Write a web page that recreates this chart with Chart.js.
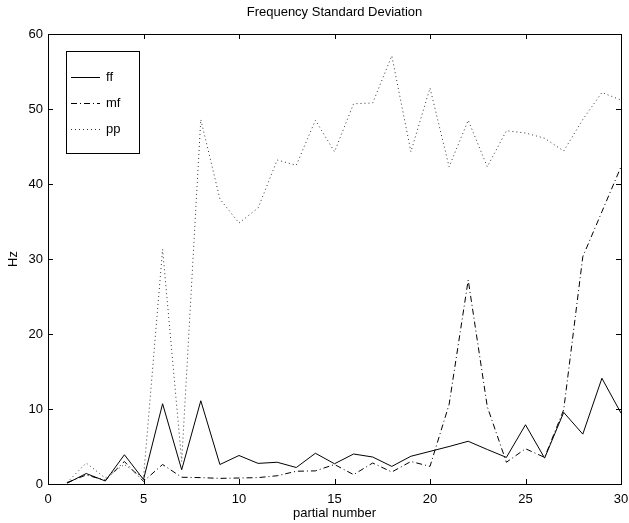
<!DOCTYPE html>
<html>
<head>
<meta charset="utf-8">
<script src="https://cdn.jsdelivr.net/npm/chart.js@4"></script>
<style>
  html, body { margin: 0; padding: 0; background: #fff; }
  #wrap { width: 629px; height: 523px; }
</style>
</head>
<body>
<div id="wrap"><canvas id="grafico"></canvas></div>
<script>
// dados
const parciais = [1,2,3,4,5,6,7,8,9,10,11,12,13,14,15,16,17,18,19,20,21,22,23,24,25,26,27,28,29,30];
const ff = [0.1,1.4,0.4,3.9,0.6,10.7,1.9,11.1,2.6,3.8,2.75,2.9,2.2,4.1,2.7,4.0,3.6,2.35,3.7,4.35,5.0,5.7,4.6,3.55,7.9,3.45,9.55,6.65,14.1,9.45];
const mf = [0.2,1.2,0.5,3.0,0.35,2.6,0.9,0.85,0.75,0.8,0.85,1.1,1.7,1.75,2.6,1.25,2.8,1.6,3.0,2.35,10.6,27.2,10.3,2.9,4.7,3.55,9.9,30.3,36.3,42.3];
const pp = [0.2,2.8,0.8,2.6,0.8,31.3,3.0,48.6,38.0,34.8,36.8,43.2,42.5,48.5,44.3,50.7,50.8,57.1,44.3,52.8,42.3,48.5,42.3,47.1,46.8,46.1,44.4,48.6,52.2,51.2];
const seriesNomes = ['ff', 'mf', 'pp'];
const xTicks = [0, 5, 10, 15, 20, 25, 30];
const yTicks = [0, 10, 20, 30, 40, 50, 60];

const fonte = 'Liberation Sans, Arial, Helvetica, sans-serif';

function pontos(valores) {
  return parciais.map((p, i) => ({ x: p, y: valores[i] }));
}

// moldura, marcas internas, titulos e legenda
const molduraPlugin = {
  id: 'moldura',
  afterDraw(chart) {
    const ctx = chart.ctx;
    const a = chart.chartArea;
    const sx = chart.scales.x;
    const sy = chart.scales.y;
    ctx.save();
    ctx.strokeStyle = '#000';
    ctx.lineWidth = 1;
    ctx.strokeRect(a.left + 0.5, a.top + 0.5, a.right - a.left, a.bottom - a.top);
    ctx.beginPath();
    xTicks.forEach(v => {
      const px = Math.round(sx.getPixelForValue(v)) + 0.5;
      ctx.moveTo(px, a.bottom); ctx.lineTo(px, a.bottom - 5);
      ctx.moveTo(px, a.top); ctx.lineTo(px, a.top + 5);
    });
    yTicks.forEach(v => {
      const py = Math.round(sy.getPixelForValue(v)) + 0.5;
      ctx.moveTo(a.left, py); ctx.lineTo(a.left + 5, py);
      ctx.moveTo(a.right, py); ctx.lineTo(a.right - 5, py);
    });
    ctx.stroke();

    // titulos
    ctx.fillStyle = '#000';
    ctx.font = '13px ' + fonte;
    ctx.textAlign = 'center';
    ctx.textBaseline = 'middle';
    const cx = (a.left + a.right) / 2;
    ctx.fillText('Frequency Standard Deviation', cx, 12);
    ctx.fillText('partial number', cx, 513);
    ctx.save();
    ctx.translate(13, (a.top + a.bottom) / 2);
    ctx.rotate(-Math.PI / 2);
    ctx.fillText('Hz', 0, 0);
    ctx.restore();

    // legenda
    ctx.lineWidth = 1;
    ctx.strokeRect(66.5, 51.5, 73, 102);
    ctx.font = '13px ' + fonte;
    ctx.textAlign = 'left';
    chart.data.datasets.forEach((ds, i) => {
      const y = 77 + i * 26 + 0.5;
      ctx.save();
      ctx.strokeStyle = ds.borderColor;
      ctx.lineWidth = ds.borderWidth;
      ctx.setLineDash(ds.borderDash || []);
      ctx.beginPath();
      ctx.moveTo(71, y); ctx.lineTo(100, y);
      ctx.stroke();
      ctx.restore();
      ctx.fillText(ds.label, 106, y);
    });
    ctx.restore();
  }
};

new Chart(document.getElementById('grafico'), {
  type: 'line',
  data: {
    datasets: [
      { label: seriesNomes[0], data: pontos(ff), borderColor: '#000', borderWidth: 1, pointRadius: 0, tension: 0 },
      { label: seriesNomes[1], data: pontos(mf), borderColor: '#000', borderWidth: 1, borderDash: [6, 3, 1, 3], pointRadius: 0, tension: 0 },
      { label: seriesNomes[2], data: pontos(pp), borderColor: '#333', borderWidth: 1, borderDash: [1, 3], pointRadius: 0, tension: 0 }
    ]
  },
  options: {
    responsive: true,
    maintainAspectRatio: false,
    animation: false,
    devicePixelRatio: 1,
    layout: { padding: { top: 34, right: 0, left: 0, bottom: 0 } },
    plugins: {
      legend: { display: false },
      title: { display: false },
      tooltip: { enabled: false }
    },
    scales: {
      x: {
        type: 'linear',
        min: 0, max: 30,
        afterBuildTicks: s => { s.ticks = xTicks.map(v => ({ value: v })); },
        afterFit: s => { s.height = 39; s.paddingRight = 8; },
        grid: { display: false, drawTicks: false },
        border: { display: false },
        ticks: { color: '#000', padding: 8, maxRotation: 0, font: { family: fonte, size: 13 } }
      },
      y: {
        min: 0, max: 60,
        afterBuildTicks: s => { s.ticks = yTicks.map(v => ({ value: v })); },
        afterFit: s => { s.width = 48; },
        grid: { display: false, drawTicks: false },
        border: { display: false },
        ticks: { color: '#000', padding: 5, font: { family: fonte, size: 13 } }
      }
    }
  },
  plugins: [molduraPlugin]
});
</script>
</body>
</html>
